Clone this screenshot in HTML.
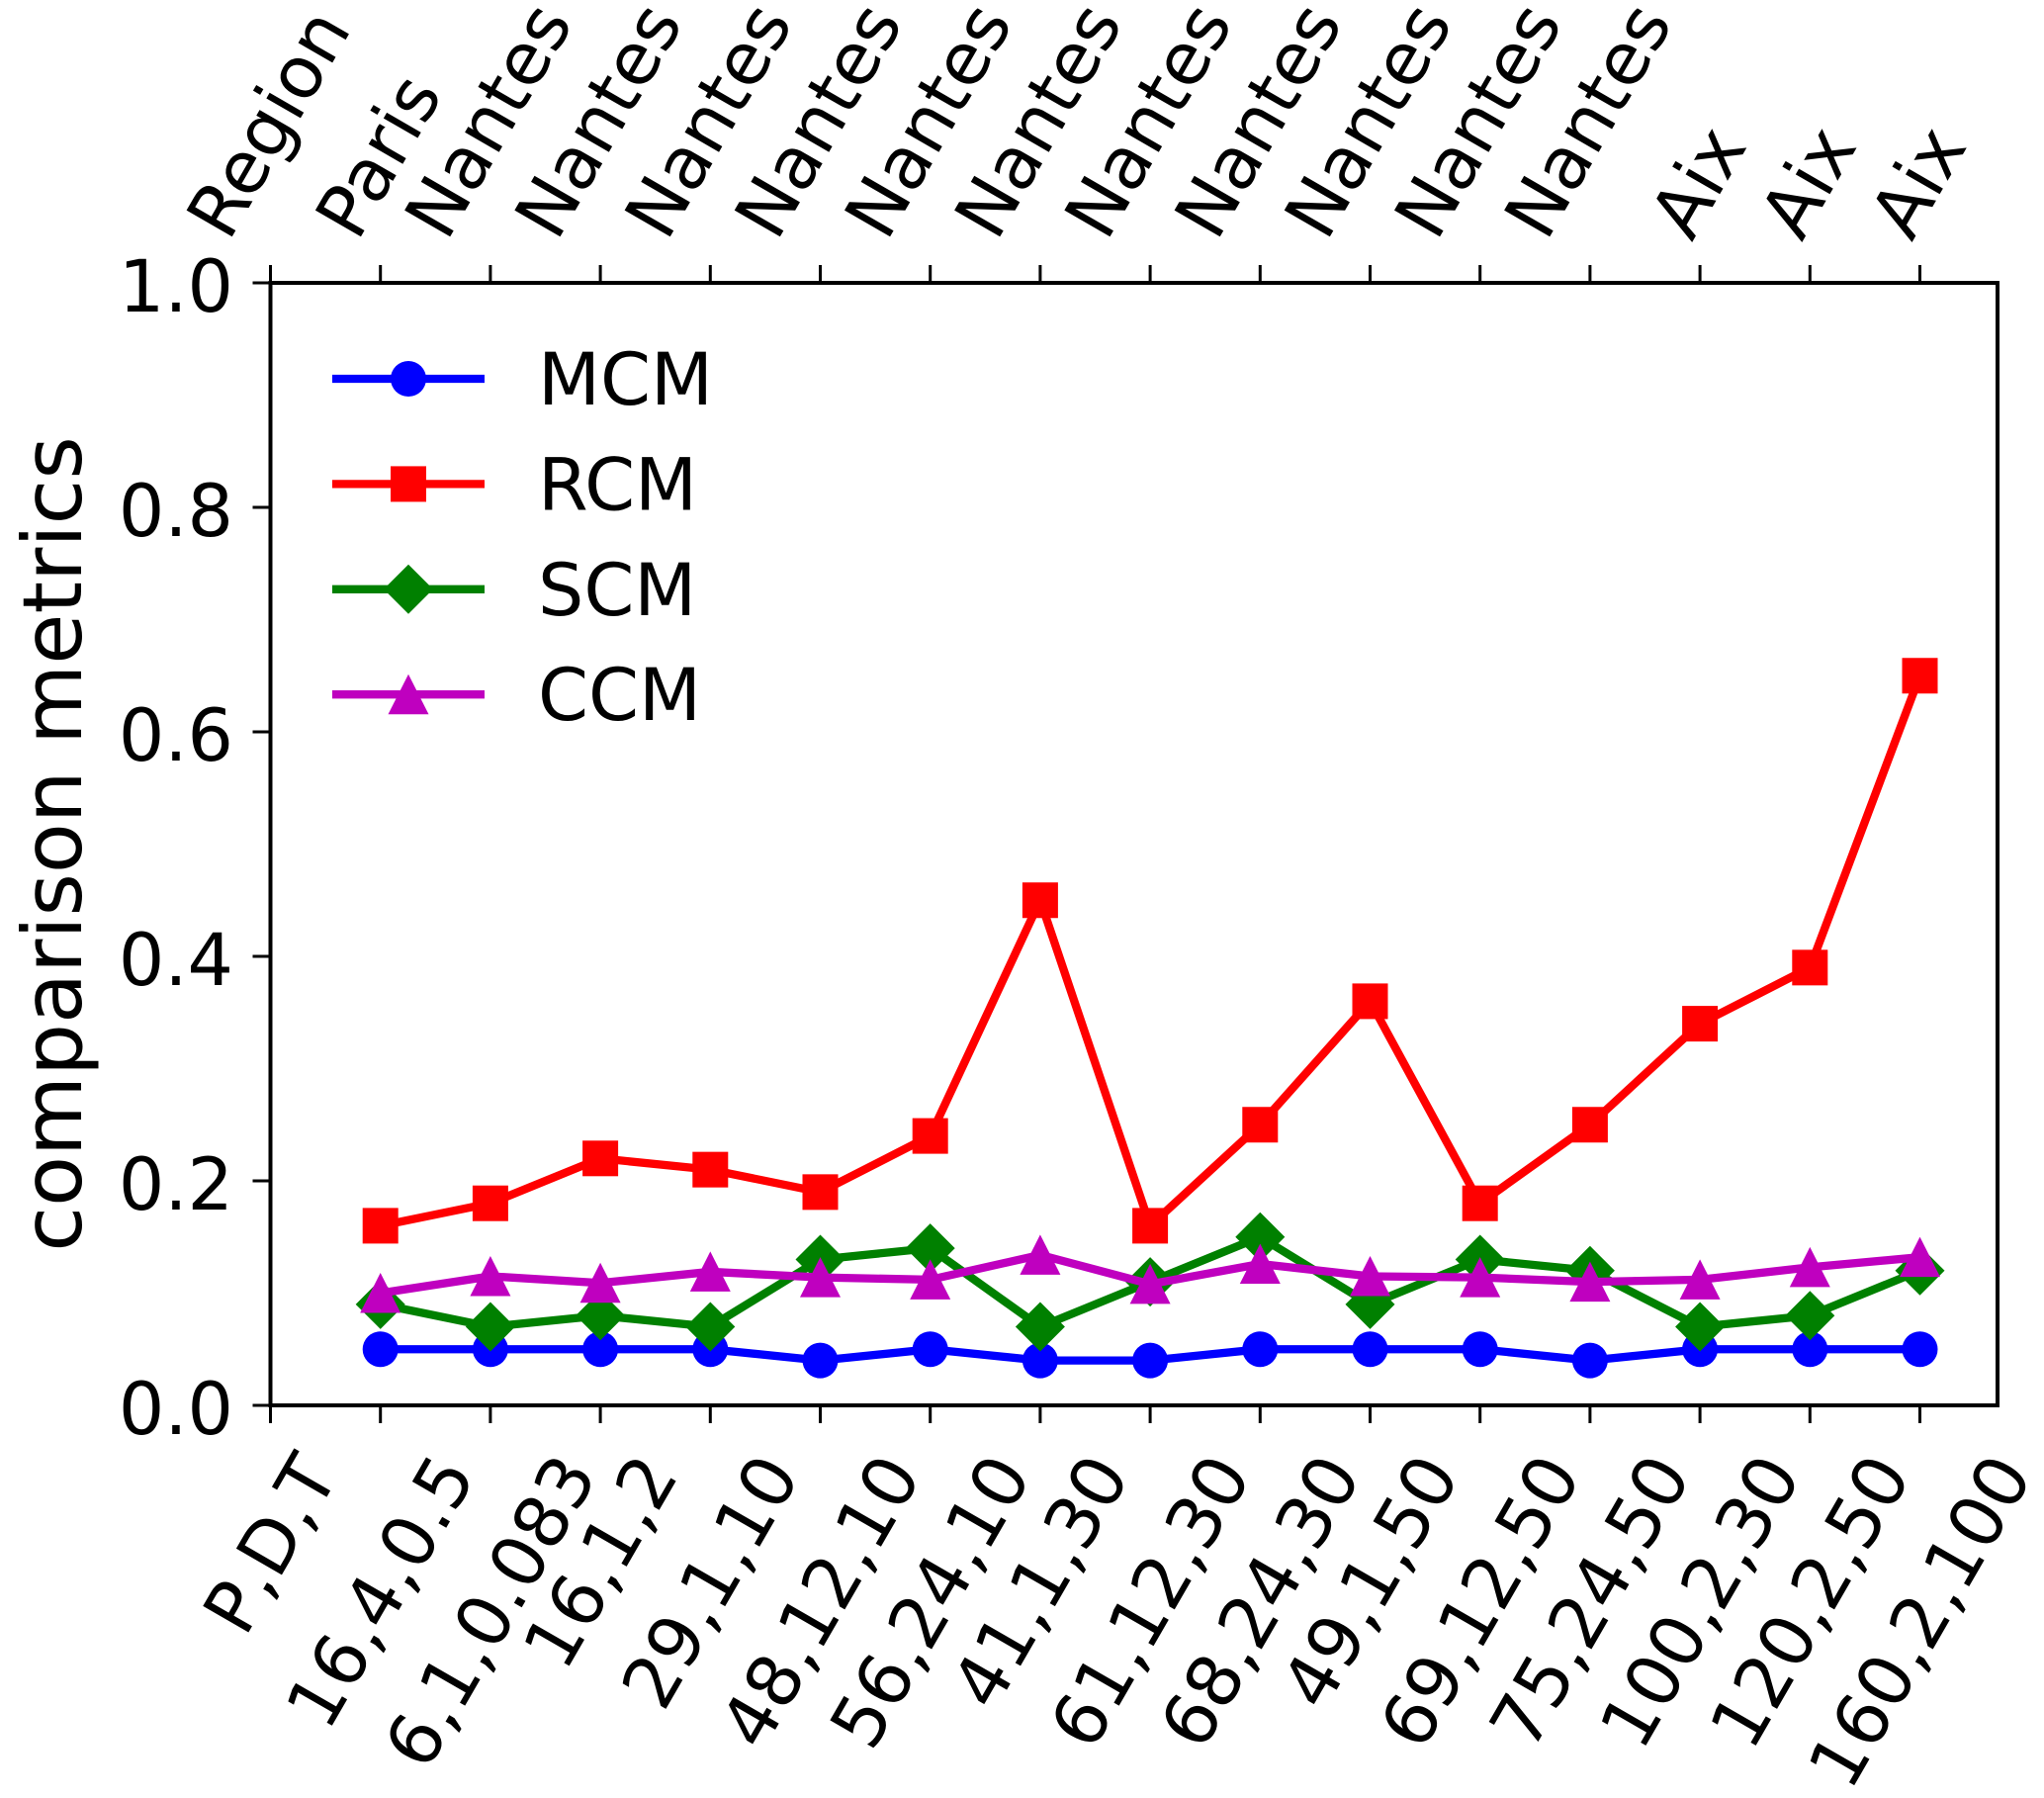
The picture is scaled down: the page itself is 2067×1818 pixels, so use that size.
<!DOCTYPE html>
<html lang="en">
<head>
<meta charset="utf-8">
<title>Comparison metrics chart</title>
<style>
  html, body { margin: 0; padding: 0; background: #ffffff; }
  svg { display: block; }
  text { font-family: "DejaVu Sans", "Liberation Sans", sans-serif; fill: #000000; }
</style>
</head>
<body>
<svg id="chart" xmlns="http://www.w3.org/2000/svg" width="2067" height="1818" viewBox="0 0 2067 1818">
  <rect x="0" y="0" width="2067" height="1818" fill="#ffffff"></rect>
  <g id="series-layer"></g>
  <rect x="273.5" y="286" width="1746.5" height="1135" fill="none" stroke="#000" stroke-width="4"></rect>
  <g id="tick-layer"></g>
  <g id="label-layer"></g>
  <text transform="translate(82 853.5) rotate(-90)" text-anchor="middle" font-size="83.3">comparison metrics</text>
  <g id="legend"></g>
</svg>
<script>
const bottomLabels = ["P,D,T","16,4,0.5","6,1,0.083","16,1,2","29,1,10","48,12,10","56,24,10","41,1,30","61,12,30","68,24,30","49,1,50","69,12,50","75,24,50","100,2,30","120,2,50","160,2,100"];
const topLabels = ["Region","Paris","Nantes","Nantes","Nantes","Nantes","Nantes","Nantes","Nantes","Nantes","Nantes","Nantes","Nantes","Aix","Aix","Aix"];
const yTicks = [0, 0.2, 0.4, 0.6, 0.8, 1.0];
const mcmValues = [0.05,0.05,0.05,0.05,0.04,0.05,0.04,0.04,0.05,0.05,0.05,0.04,0.05,0.05,0.05];
const rcmValues = [0.16,0.18,0.22,0.21,0.19,0.24,0.45,0.16,0.25,0.36,0.18,0.25,0.34,0.39,0.65];
const scmValues = [0.09,0.07,0.08,0.07,0.13,0.14,0.07,0.11,0.15,0.09,0.13,0.12,0.07,0.08,0.12];
const ccmValues = [0.10,0.115,0.109,0.119,0.114,0.112,0.134,0.108,0.126,0.115,0.114,0.110,0.112,0.123,0.132];
const seriesNames = ["MCM","RCM","SCM","CCM"];

const NS = "http://www.w3.org/2000/svg";
const X0 = 273.5, XUNIT = 111.2, YBOTTOM = 1421, YTOP = 286;
const TICK_FONT = 73, LINE_W = 8.3;
function xAt(i) { return X0 + XUNIT * i; }
function yAt(v) { return YBOTTOM + (YTOP - YBOTTOM) * v; }
function make(tag, parent, attrs) {
  const el = document.createElementNS(NS, tag);
  for (const k in attrs) el.setAttribute(k, attrs[k]);
  parent.appendChild(el);
  return el;
}
function marker(kind, parent, cx, cy, color) {
  const s = 18;
  if (kind === "circle") return make("circle", parent, {cx: cx, cy: cy, r: s, fill: color});
  if (kind === "square") return make("rect", parent, {x: cx - s, y: cy - s, width: 2 * s, height: 2 * s, fill: color});
  if (kind === "diamond") return make("polygon", parent, {points: [cx, cy - 25, cx + 25, cy, cx, cy + 25, cx - 25, cy].join(" "), fill: color});
  return make("polygon", parent, {points: [cx, cy - 20.5, cx + 20.5, cy + 20, cx - 20.5, cy + 20].join(" "), fill: color});
}

const seriesStyles = [
  {values: mcmValues, color: "#0000ff", kind: "circle"},
  {values: rcmValues, color: "#ff0000", kind: "square"},
  {values: scmValues, color: "#008000", kind: "diamond"},
  {values: ccmValues, color: "#bf00bf", kind: "triangle"}
];

const seriesLayer = document.getElementById("series-layer");
seriesStyles.forEach(function (st, si) {
  const g = make("g", seriesLayer, {});
  
  
  const line = make("polyline", g, {
    points: st.values.map(function (v, i) { return xAt(i + 1) + "," + yAt(v); }).join(" "),
    fill: "none", stroke: st.color, "stroke-width": LINE_W, "stroke-linejoin": "round"
  });
  
  
  st.values.forEach(function (v, i) {
    const m = marker(st.kind, g, xAt(i + 1), yAt(v), st.color);
    
    
  });
});

const tickLayer = document.getElementById("tick-layer");
bottomLabels.forEach(function (_, i) {
  const b = make("line", tickLayer, {x1: xAt(i), x2: xAt(i), y1: YBOTTOM, y2: YBOTTOM + 18, stroke: "#000", "stroke-width": 3});
  
  
  const t = make("line", tickLayer, {x1: xAt(i), x2: xAt(i), y1: YTOP, y2: YTOP - 18, stroke: "#000", "stroke-width": 3});
  
  
});
yTicks.forEach(function (v) {
  const t = make("line", tickLayer, {x1: X0 - 18, x2: X0, y1: yAt(v), y2: yAt(v), stroke: "#000", "stroke-width": 3});
  
  
});

const labelLayer = document.getElementById("label-layer");
yTicks.forEach(function (v) {
  const t = make("text", labelLayer, {x: 236, y: yAt(v) + 29, "text-anchor": "end", "font-size": TICK_FONT});
  t.textContent = v.toFixed(1);
  
  
});

const SIN60 = Math.sin(Math.PI / 3), COS60 = 0.5;
function rotatedLabel(str, i, anchorY, isTop, shiftX) {
  const t = make("text", labelLayer, {"text-anchor": "middle", "font-size": TICK_FONT});
  t.textContent = str;
  const w = t.getComputedTextLength();
  const h = TICK_FONT * 0.95;
  const halfTall = (w * SIN60 + h * COS60) / 2;
  const cy = isTop ? anchorY - halfTall : anchorY + halfTall;
  /* baseline sits below the vertical centre of the text box */
  t.setAttribute("transform", "translate(" + (xAt(i) + shiftX) + " " + cy + ") rotate(-60) translate(0 " + (TICK_FONT * 0.27) + ")");
  return t;
}
bottomLabels.forEach(function (s, i) {
  const t = rotatedLabel(s, i, 1464, false, 5);
  
  
});
topLabels.forEach(function (s, i) {
  const t = rotatedLabel(s, i, 253, true, 3);
  
  
});

const legend = document.getElementById("legend");
seriesStyles.forEach(function (st, si) {
  const y = 383 + 106.4 * si;
  const g = make("g", legend, {});
  
  
  make("line", g, {x1: 336, x2: 490, y1: y, y2: y, stroke: st.color, "stroke-width": LINE_W});
  marker(st.kind, g, 413, y, st.color);
  const t = make("text", g, {x: 544, y: y + 26, "font-size": TICK_FONT});
  t.textContent = seriesNames[si];
});
</script>
</body>
</html>
